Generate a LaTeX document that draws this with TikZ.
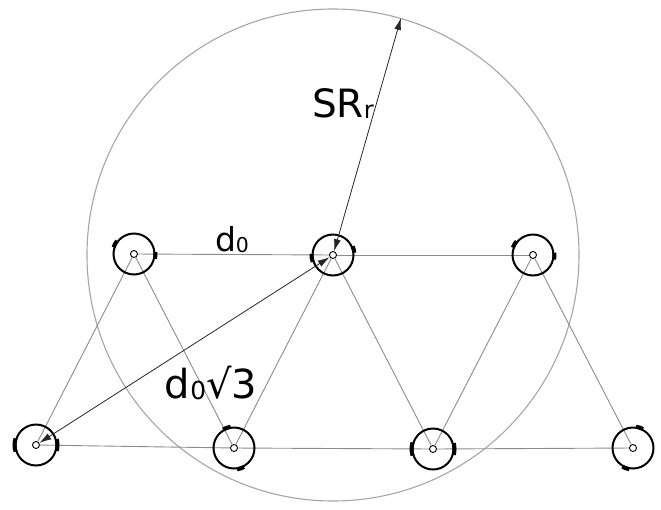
\documentclass[tikz,border=0pt]{standalone}
\usepackage{fontspec}
\setmainfont{DejaVu Sans}
\usetikzlibrary{arrows.meta}
\newcommand{\lowsub}[1]{{\fontsize{0.62em}{0.62em}\selectfont\raisebox{-0.04em}{#1}}}
\tikzset{
  wheel/.style={circle,draw=black,line width=2pt,minimum size=41pt,inner sep=0pt},
  hub/.style={circle,draw=black,line width=0.9pt,minimum size=7pt,inner sep=0pt},
  linkline/.style={draw=black!45,line width=0.9pt},
  srcircle/.style={circle,draw=black!35,line width=1.1pt,minimum size=492pt,inner sep=0pt},
  dimarrow/.style={draw=black!85,line width=0.8pt,{Latex[length=12pt,width=7pt]}-{Latex[length=12pt,width=7pt]}},
  tickmark/.style={line width=4pt,line cap=butt},
  lab/.style={inner sep=0pt,text=black}
}
\begin{document}
\begin{tikzpicture}[x=1pt,y=-1pt]
\useasboundingbox (0,0) rectangle (661,509);
% positions
\coordinate (t1) at (134,254);
\coordinate (t2) at (333,255);
\coordinate (t3) at (533,255);
\coordinate (b1) at (36,445);
\coordinate (b2) at (234,448);
\coordinate (b3) at (433,449);
\coordinate (b4) at (633,448);
% range circle
\node[srcircle] (sr) at (t2) {};
% hubs
\foreach \n in {t1,t2,t3,b1,b2,b3,b4} {\node[hub] (\n i) at (\n) {};}
% links
\draw[linkline] (t1i) -- (t2i);
\draw[linkline] (t2i) -- (t3i);
\draw[linkline] (b1i) -- (b2i);
\draw[linkline] (b2i) -- (b3i);
\draw[linkline] (b3i) -- (b4i);
\draw[linkline] (t1i) -- (b1i);
\draw[linkline] (t1i) -- (b2i);
\draw[linkline] (t2i) -- (b2i);
\draw[linkline] (t2i) -- (b3i);
\draw[linkline] (t3i) -- (b3i);
\draw[linkline] (t3i) -- (b4i);
% wheels
\foreach \n in {t1,t2,t3,b1,b2,b3,b4} {\node[wheel] (\n w) at (\n) {};}
% ticks (angles negated because y points down)
\draw[tickmark] ([shift={(t1)}]-162:21.5) arc[start angle=-162,delta angle=20,radius=21.5];
\draw[tickmark] ([shift={(t1)}]-5:21.5) arc[start angle=-5,delta angle=18,radius=21.5];
\draw[tickmark] ([shift={(t2)}]-199:21.5) arc[start angle=-199,delta angle=22,radius=21.5];
\draw[tickmark] ([shift={(t2)}]-24:21.5) arc[start angle=-24,delta angle=18,radius=21.5];
\draw[tickmark] ([shift={(t3)}]-160:21.5) arc[start angle=-160,delta angle=20,radius=21.5];
\draw[tickmark] ([shift={(t3)}]-6:21.5) arc[start angle=-6,delta angle=18,radius=21.5];
\draw[tickmark] ([shift={(b1)}]-198:21.5) arc[start angle=-198,delta angle=36,radius=21.5];
\draw[tickmark] ([shift={(b1)}]-16:21.5) arc[start angle=-16,delta angle=32,radius=21.5];
\draw[tickmark] ([shift={(b2)}]-121:21.5) arc[start angle=-121,delta angle=22,radius=21.5];
\draw[tickmark] ([shift={(b2)}]62:21.5) arc[start angle=62,delta angle=20,radius=21.5];
\draw[tickmark] ([shift={(b3)}]-198:21.5) arc[start angle=-198,delta angle=36,radius=21.5];
\draw[tickmark] ([shift={(b3)}]-16:21.5) arc[start angle=-16,delta angle=32,radius=21.5];
\draw[tickmark] ([shift={(b4)}]-82:21.5) arc[start angle=-82,delta angle=20,radius=21.5];
\draw[tickmark] ([shift={(b4)}]100:21.5) arc[start angle=100,delta angle=20,radius=21.5];
% dimension arrows
\draw[dimarrow] (t2i) -- (sr.74.4);
\draw[dimarrow] (b1i) -- (t2i);
% labels
\node[lab,font=\fontsize{39}{42}\selectfont] (lsr) at (343,104) {SR\lowsub{r}};
\node[lab,font=\fontsize{33}{36}\selectfont] (ld0) at (232,240) {d\lowsub{0}};
\node[lab,font=\fontsize{40}{44}\selectfont] (ld3) at (211,383) {d\lowsub{0}√3};
\end{tikzpicture}
\end{document}
